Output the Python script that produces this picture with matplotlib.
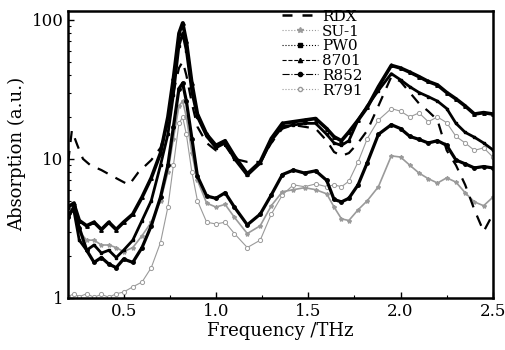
import numpy as np
import matplotlib
matplotlib.use('Agg')
import matplotlib.pyplot as plt
from matplotlib.lines import Line2D
from matplotlib.ticker import FixedLocator, NullFormatter

plt.rcParams['font.family'] = 'DejaVu Serif'

# frequency grid (THz) shared by the sample curves
freq = [0.20, 0.23, 0.26, 0.30, 0.34, 0.38, 0.42, 0.46, 0.50, 0.55,
        0.60, 0.65, 0.70, 0.74, 0.77, 0.80, 0.82, 0.84, 0.87, 0.90,
        0.95, 1.00, 1.05, 1.10, 1.17, 1.24, 1.30, 1.36, 1.42, 1.48,
        1.54, 1.60, 1.64, 1.68, 1.72, 1.77, 1.82, 1.88, 1.95, 2.00,
        2.05, 2.10, 2.15, 2.20, 2.25, 2.30, 2.35, 2.40, 2.45, 2.50]

s8701 = [4.5, 4.8, 3.6, 3.3, 3.5, 3.1, 3.5, 3.1, 3.5, 4.0,
         5.3, 7.3, 11, 20, 38, 80, 95, 70, 35, 21,
         15, 12.5, 13.5, 10.5, 7.8, 9.5, 14, 18, 18.5, 19,
         19.5, 16.5, 14.4, 13.5, 15.6, 19, 23.5, 33, 47, 45,
         42, 39, 36, 34, 30, 27, 24, 21, 21.5, 21]

pw0 = [4.0, 4.3, 2.6, 2.2, 2.4, 2.1, 2.2, 1.95, 2.2, 2.6,
       3.6, 5.0, 9.0, 15, 29, 65, 80, 60, 30, 20,
       14.5, 12, 13, 10, 7.6, 9.3, 13.5, 17, 17.5, 18,
       18, 15, 13, 12.5, 13.5, 19, 24, 31, 41, 37,
       33, 30, 28, 26, 23, 18, 15.5, 14.3, 13, 11.6]

r852 = [3.8, 4.5, 3.2, 2.2, 1.8, 1.95, 1.75, 1.65, 1.9, 1.8,
        2.3, 3.3, 5.3, 9, 17, 32, 35, 26, 14, 7.5,
        5.4, 5.2, 5.7, 4.5, 3.35, 4.0, 5.5, 7.7, 8.3, 7.9,
        8.2, 7.0, 5.1, 4.9, 5.2, 6.5, 9.4, 15, 17.6, 16.5,
        14.5, 13.8, 13, 13.5, 12.5, 9.8, 9.2, 8.6, 8.8, 8.6]

su1 = [3.8, 4.3, 3.0, 2.6, 2.6, 2.4, 2.4, 2.3, 2.15, 2.3,
       2.8, 3.5, 5.0, 8, 14, 24, 26, 20, 11, 7,
       4.8, 4.5, 4.7, 3.8, 2.9, 3.3, 4.6, 5.8, 6.0, 6.2,
       6.0, 5.6, 4.5, 3.7, 3.6, 4.3, 5.0, 6.3, 10.5, 10.3,
       9, 7.9, 7.2, 6.7, 7.3, 6.8, 5.7, 4.9, 4.6, 5.3]

r791 = [1.02, 1.07, 1.02, 1.07, 1.01, 1.06, 1.01, 1.07, 1.1, 1.2,
        1.3, 1.65, 2.5, 4.5, 9, 18, 20, 15, 8, 5,
        3.5, 3.4, 3.5, 2.9, 2.3, 2.6, 4.0, 5.5, 6.5, 6.3,
        6.6, 6.3, 6.5, 6.3, 6.9, 9.5, 14, 19, 23, 22,
        20, 21.4, 18.5, 20, 18.2, 14.5, 13, 11.5, 12, 10.3]

rdx_freq = [0.20, 0.22, 0.25, 0.28, 0.32, 0.38, 0.44, 0.50, 0.53, 0.58,
            0.65, 0.70, 0.74, 0.77, 0.80, 0.82, 0.84, 0.87, 0.90, 0.95,
            1.00, 1.05, 1.10, 1.17, 1.24, 1.30, 1.36, 1.42, 1.48, 1.54,
            1.60, 1.64, 1.68, 1.72, 1.77, 1.82, 1.88, 1.95, 2.00, 2.05,
            2.10, 2.15, 2.20, 2.25, 2.30, 2.35, 2.40, 2.45, 2.50]
rdx = [9.5, 16, 12.5, 10, 9, 8.3, 7.5, 6.8, 6.5, 8,
       9.8, 12, 18, 30, 45, 50, 40, 25, 17, 13,
       11.5, 12.5, 10, 9.5, 9.5, 13, 16.5, 17.5, 17, 16.5,
       13.5, 11.2, 10.5, 11, 13, 16, 24, 39, 36, 30,
       25, 22, 19, 11.5, 9, 6.5, 4.3, 3.0, 4.0]

fig = plt.figure(figsize=(5.05, 3.5), dpi=100)
ax = fig.add_axes([0.135, 0.149, 0.841, 0.82])

grey = '#9a9a9a'
ax.plot(freq, r791, color=grey, lw=0.8, marker='o', ms=3, mfc='white', mec=grey, mew=0.7)
ax.plot(freq, su1, color=grey, lw=1.2, marker='*', ms=3, mfc=grey, mec=grey)
ax.plot(freq, r852, color='black', lw=2.3, marker='o', ms=2.5)
ax.plot(freq, pw0, color='black', lw=2.0, marker='s', ms=2)
ax.plot(freq, s8701, color='black', lw=2.6, marker='^', ms=2.5)
ax.plot(rdx_freq, rdx, color='black', lw=1.6, dashes=(5, 4))

ax.set_yscale('log')
ax.set_xlim(0.2, 2.5)
ax.set_ylim(1, 116)
ax.set_yticks([1, 10, 100])
ax.set_yticklabels(['1', '10', '100'])
ax.yaxis.set_minor_locator(FixedLocator([k * 10 ** e for e in (0, 1) for k in range(2, 10)]))
ax.yaxis.set_minor_formatter(NullFormatter())
ax.set_xticks([0.5, 1.0, 1.5, 2.0, 2.5])
ax.set_xticklabels(['0.5', '1.0', '1.5', '2.0', '2.5'])
ax.set_xticks([0.25, 0.75, 1.25, 1.75, 2.25], minor=True)
ax.tick_params(which='both', direction='in', top=False, right=False, labelsize=12)
ax.tick_params(which='major', length=4, width=1)
ax.tick_params(which='minor', length=2, width=0.8)
for s in ax.spines.values():
    s.set_linewidth(1.8)

ax.set_xlabel('Frequency /THz', fontsize=13, labelpad=2)
ax.set_ylabel('Absorption (a.u.)', fontsize=13, labelpad=4)

handles = [
    Line2D([], [], color='black', lw=1.8, dashes=(4, 4)),
    Line2D([], [], color=grey, lw=0.8, ls=':', marker='*', ms=4, mfc=grey),
    Line2D([], [], color='black', lw=0.8, ls=':', marker='s', ms=3),
    Line2D([], [], color='black', lw=0.8, ls='--', marker='^', ms=3),
    Line2D([], [], color='black', lw=0.8, ls='-.', marker='o', ms=3),
    Line2D([], [], color=grey, lw=0.8, ls=':', marker='o', ms=3, mfc='white'),
]
labels = ['RDX', 'SU-1', 'PW0', '8701', 'R852', 'R791']
ax.legend(handles, labels, loc='upper left', bbox_to_anchor=(0.49, 1.025), frameon=False,
          fontsize=11, handlelength=2.3, handletextpad=0.3, labelspacing=0.05,
          borderaxespad=0)

fig.savefig('out.png', dpi=100)
